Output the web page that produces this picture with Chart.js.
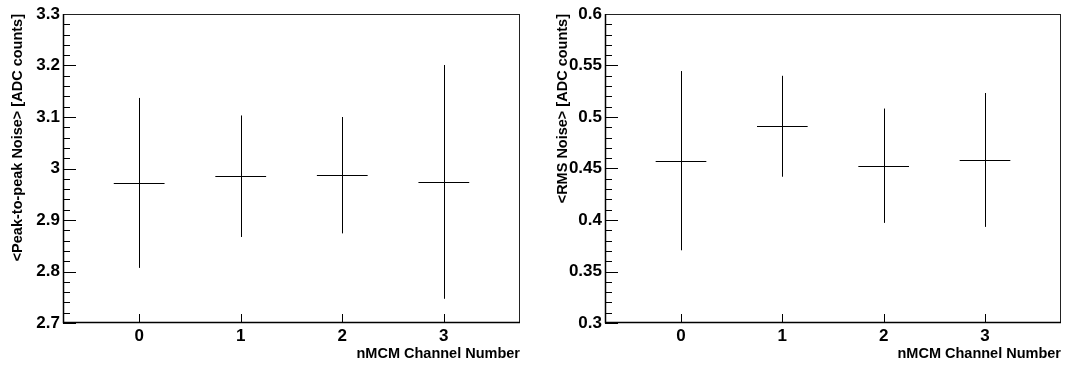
<!DOCTYPE html>
<html>
<head>
<meta charset="utf-8">
<script src="https://cdn.jsdelivr.net/npm/chart.js@4/dist/chart.umd.min.js"></script>
<style>
  html, body { margin: 0; padding: 0; background: #fff; }
  #wrap { position: relative; width: 1066px; height: 365px; }
  .pane { position: absolute; top: 0; width: 533px; height: 365px; }
</style>
</head>
<body>
<div id="wrap">
  <div class="pane" style="left:0"><canvas id="p2pChart" width="533" height="365"></canvas></div>
  <div class="pane" style="left:533px"><canvas id="rmsChart" width="533" height="365"></canvas></div>
</div>
<script>
// channels on the x axis
const channels = [0, 1, 2, 3];
const binHalfWidth = 0.25;

// left panel: mean peak-to-peak noise and its spread
const p2pMean = [2.972, 2.985, 2.987, 2.974];
const p2pErr = [0.165, 0.118, 0.113, 0.227];
const p2pTicks = [2.7, 2.8, 2.9, 3.0, 3.1, 3.2, 3.3];

// right panel: mean RMS noise and its spread
const rmsMean = [0.4576, 0.491, 0.4527, 0.4583];
const rmsErr = [0.087, 0.049, 0.0555, 0.065];
const rmsTicks = [0.3, 0.35, 0.4, 0.45, 0.5, 0.55, 0.6];

const FONT = "'Liberation Sans', Arial, Helvetica, sans-serif";

// ROOT style frame, inward ticks and error crosses
const rootStyle = {
  id: "rootStyle",
  afterDatasetsDraw(chart) {
    const { ctx, chartArea: a, scales } = chart;
    const x = scales.x, y = scales.y;
    ctx.save();
    ctx.strokeStyle = "#000";
    ctx.lineWidth = 1;

    // y ticks, pointing into the frame
    y.ticks.forEach((t) => {
      const py = Math.round(y.getPixelForValue(t.value)) + 0.5;
      const len = t.major ? 13 : 7;
      ctx.beginPath();
      ctx.moveTo(a.left, py);
      ctx.lineTo(a.left + len, py);
      ctx.stroke();
    });
    // x ticks, pointing up
    x.ticks.forEach((t) => {
      const px = Math.round(x.getPixelForValue(t.value)) + 0.5;
      ctx.beginPath();
      ctx.moveTo(px, a.bottom);
      ctx.lineTo(px, a.bottom - 9);
      ctx.stroke();
    });

    // error crosses
    const ds = chart.data.datasets[0];
    ds.data.forEach((p, i) => {
      const e = ds.errors[i];
      const px = Math.round(x.getPixelForValue(p.x)) + 0.5;
      const py = Math.round(y.getPixelForValue(p.y)) + 0.5;
      ctx.beginPath();
      ctx.moveTo(x.getPixelForValue(p.x - binHalfWidth), py);
      ctx.lineTo(x.getPixelForValue(p.x + binHalfWidth), py);
      ctx.moveTo(px, y.getPixelForValue(p.y + e));
      ctx.lineTo(px, y.getPixelForValue(p.y - e));
      ctx.stroke();
    });

    // frame
    ctx.strokeStyle = "#222";
    ctx.strokeRect(a.left + 0.5, a.top + 0.5, a.right - a.left - 1, a.bottom - a.top - 1);
    ctx.strokeStyle = "#000";
    ctx.lineWidth = 1.5;
    ctx.beginPath();
    ctx.moveTo(a.left + 0.5, a.top);
    ctx.lineTo(a.left + 0.5, a.bottom - 0.5);
    ctx.lineTo(a.right, a.bottom - 0.5);
    ctx.stroke();
    ctx.restore();
  },
};

function fmt(v) {
  return String(parseFloat(v.toFixed(3)));
}

function makeChart(id, means, errs, majors, minorCount, yTitle, yWidth, titlePad, padRight) {
  const step = majors[1] - majors[0];
  return new Chart(document.getElementById(id).getContext("2d"), {
    type: "scatter",
    data: {
      datasets: [
        {
          data: channels.map((c, i) => ({ x: c, y: means[i] })),
          errors: errs,
          pointRadius: 0,
          showLine: false,
        },
      ],
    },
    options: {
      responsive: false,
      animation: false,
      events: [],
      layout: { padding: { top: 14, right: padRight, left: 0, bottom: 0 } },
      plugins: { legend: { display: false }, tooltip: { enabled: false } },
      scales: {
        x: {
          type: "linear",
          min: -0.75,
          max: 3.75,
          grid: { display: false, drawTicks: false },
          border: { display: false },
          afterBuildTicks: (s) => {
            s.ticks = channels.map((c) => ({ value: c }));
          },
          afterFit: (s) => {
            s.height = 42;
          },
          ticks: {
            padding: 3,
            autoSkip: false,
            maxRotation: 0,
            color: "#000",
            font: { family: FONT, size: 17, weight: "bold" },
            callback: (v) => String(v),
          },
          title: {
            display: true,
            text: "nMCM Channel Number",
            align: "end",
            color: "#000",
            padding: { top: 0, bottom: 2 },
            font: { family: FONT, size: 14.5, weight: "bold" },
          },
        },
        y: {
          min: majors[0],
          max: majors[majors.length - 1],
          grid: { display: false, drawTicks: false },
          border: { display: false },
          afterBuildTicks: (s) => {
            const list = [];
            for (let i = 0; i < majors.length; i++) {
              list.push({ value: majors[i], major: true });
              if (i < majors.length - 1) {
                for (let k = 1; k < minorCount; k++) {
                  list.push({ value: majors[i] + (step * k) / minorCount, major: false });
                }
              }
            }
            s.ticks = list;
          },
          afterFit: (s) => {
            s.width = yWidth;
          },
          ticks: {
            padding: 3,
            autoSkip: false,
            color: "#000",
            font: { family: FONT, size: 17, weight: "bold" },
            callback: function (v, i, ticks) {
              return ticks[i].major ? fmt(v) : "";
            },
          },
          title: {
            display: true,
            text: yTitle,
            align: "end",
            color: "#000",
            padding: { top: titlePad, bottom: 0 },
            font: { family: FONT, size: 14.5, weight: "bold" },
          },
        },
      },
    },
    plugins: [rootStyle],
  });
}

makeChart("p2pChart", p2pMean, p2pErr, p2pTicks, 5,
  "<Peak-to-peak Noise> [ADC counts]", 63, 9, 13);
makeChart("rmsChart", rmsMean, rmsErr, rmsTicks, 5,
  "<RMS Noise> [ADC counts]", 72, 21, 5);
</script>
</body>
</html>
